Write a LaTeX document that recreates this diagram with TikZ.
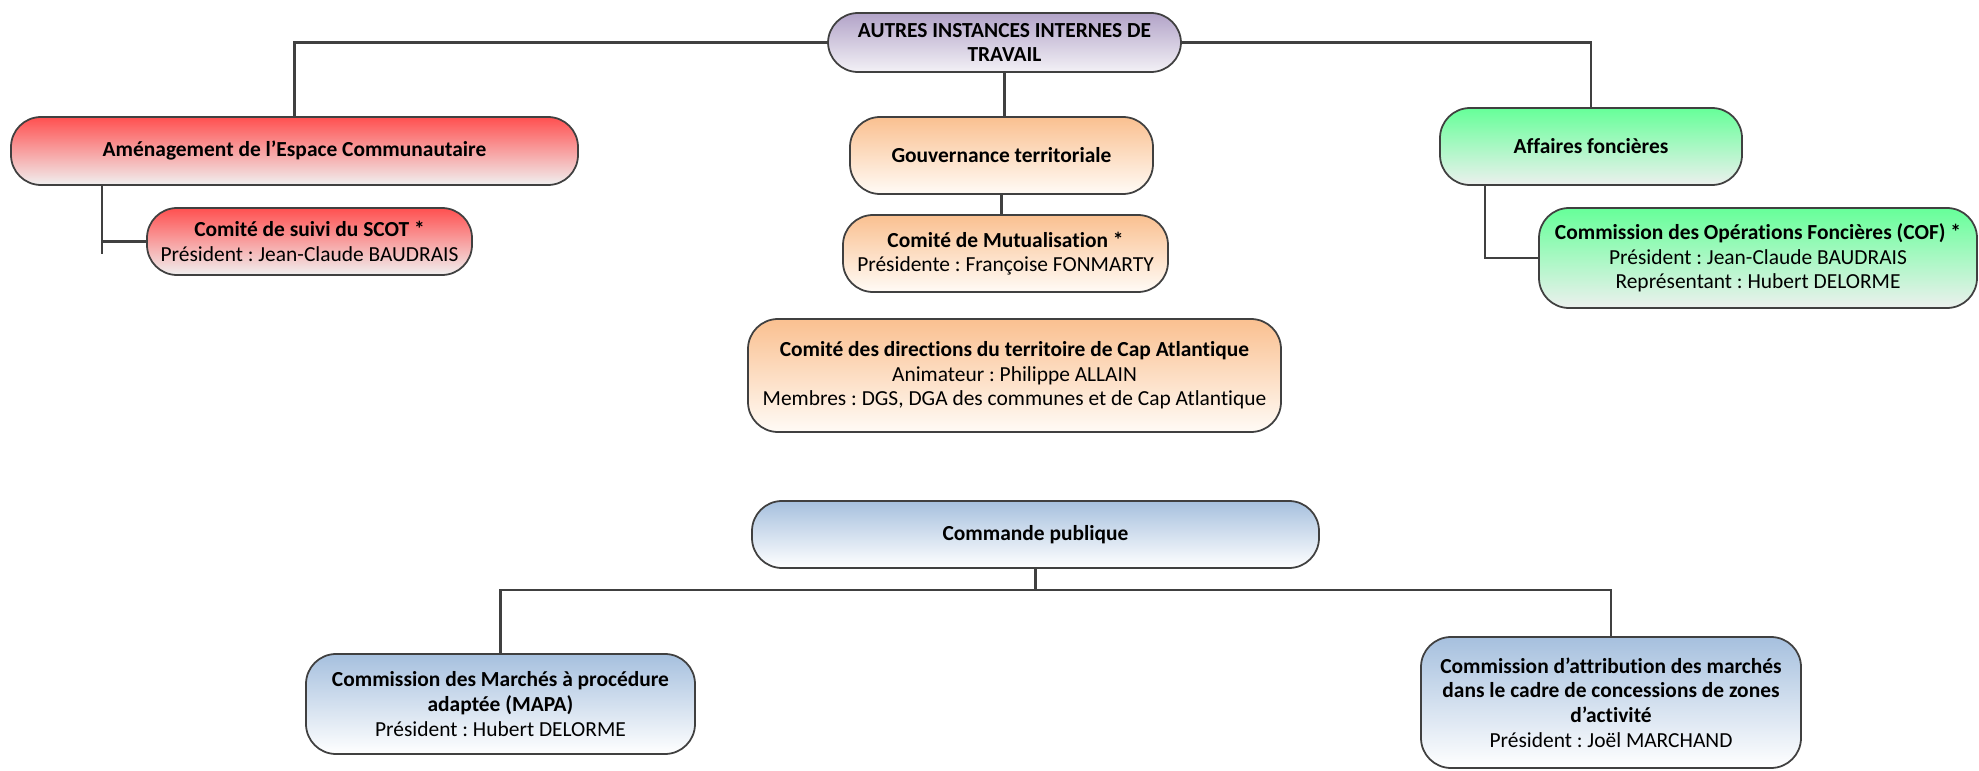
\documentclass[tikz,border=0pt]{standalone}
\usepackage{fontspec}
\setmainfont[Ligatures=NoCommon]{Carlito}
\frenchspacing
\definecolor{linegray}{RGB}{64,64,64}
\definecolor{purpletop}{RGB}{178,163,200}
\definecolor{purplebot}{RGB}{243,241,246}
\definecolor{redtop}{RGB}{255,80,80}
\definecolor{redbot}{RGB}{240,240,240}
\definecolor{orangetop}{RGB}{250,192,144}
\definecolor{orangebot}{RGB}{255,251,246}
\definecolor{greentop}{RGB}{102,255,153}
\definecolor{greenbot}{RGB}{236,240,238}
\definecolor{bluetop}{RGB}{166,192,222}
\definecolor{bluebot}{RGB}{255,255,255}

\begin{document}
\begin{tikzpicture}[
    instbox/.style={draw=linegray, line width=0.5pt, rounded corners=0.3cm,
        align=center, inner sep=1pt,
        font=\fontsize{6.1}{7}\selectfont},
    purplebox/.style={instbox, top color=purpletop, bottom color=purplebot},
    redbox/.style={instbox, top color=redtop, bottom color=redbot},
    orangebox/.style={instbox, top color=orangetop, bottom color=orangebot},
    greenbox/.style={instbox, top color=greentop, bottom color=greenbot},
    bluebox/.style={instbox, top color=bluetop, bottom color=bluebot},
    link/.style={draw=linegray, line width=0.8pt}
]
    \useasboundingbox (0,0) rectangle (19.79,7.70);

    % Connectors at the top
    \coordinate (scotend) at (1.02,5.16);
    \coordinate (cmdbus) at (10.355,1.80);

    % Top node and the three groups
    \node[purplebox, minimum width=3.53cm, minimum height=0.59cm] (autres) at (10.045,7.275)
        {\textbf{AUTRES INSTANCES INTERNES DE}\\\textbf{TRAVAIL}};
    \node[redbox, minimum width=5.67cm, minimum height=0.68cm] (amenag) at (2.945,6.19)
        {\textbf{Aménagement de l’Espace Communautaire}};
    \node[orangebox, minimum width=3.03cm, minimum height=0.77cm] (gouv) at (10.015,6.145)
        {\textbf{Gouvernance territoriale}};
    \node[greenbox, minimum width=3.02cm, minimum height=0.77cm] (affaires) at (15.91,6.235)
        {\textbf{Affaires foncières}};

    \draw[link] (autres.west) -| (amenag.north);
    \draw[link] (autres.east) -| (affaires.north);
    \draw[link] (autres.south) -- (autres.south |- gouv.north);

    % Aménagement
    \node[redbox, minimum width=3.25cm, minimum height=0.67cm] (scot) at (3.095,5.285)
        {\textbf{Comité de suivi du SCOT *}\\Président : Jean-Claude BAUDRAIS};
    \draw[link] (amenag.south -| scotend) -- (scotend);
    \draw[link] (scot.west) -- (scot.west -| scotend);

    % Gouvernance
    \node[orangebox, minimum width=3.25cm, minimum height=0.77cm] (mutual) at (10.055,5.165)
        {\textbf{Comité de Mutualisation *}\\Présidente : Françoise FONMARTY};
    \draw[link] (gouv.south) -- (gouv.south |- mutual.north);
    \node[orangebox, minimum width=5.33cm, minimum height=1.13cm] (codir) at (10.145,3.945)
        {\textbf{Comité des directions du territoire de Cap Atlantique}\\Animateur : Philippe ALLAIN\\Membres : DGS, DGA des communes et de Cap Atlantique};

    % Affaires foncières
    \node[greenbox, minimum width=4.38cm, minimum height=1.00cm] (cof) at (17.58,5.12)
        {\textbf{Commission des Opérations Foncières (COF) *}\\Président : Jean-Claude BAUDRAIS\\Représentant : Hubert DELORME};
    \draw[link] ([xshift=-1.06cm]affaires.south) |- (cof.west);

    % Commande publique
    \node[bluebox, minimum width=5.67cm, minimum height=0.67cm] (commande) at (10.355,2.355)
        {\textbf{Commande publique}};
    \node[bluebox, minimum width=3.89cm, minimum height=1.00cm] (mapa) at (5.005,0.66)
        {\textbf{Commission des Marchés à procédure}\\\textbf{adaptée (MAPA)}\\Président : Hubert DELORME};
    \node[bluebox, minimum width=3.80cm, minimum height=1.31cm] (attrib) at (16.11,0.675)
        {\textbf{Commission d’attribution des marchés}\\\textbf{dans le cadre de concessions de zones}\\\textbf{d’activité}\\Président : Joël MARCHAND};
    \draw[link] (commande.south) -- (cmdbus);
    \draw[link] (mapa.north) |- (cmdbus) -| (attrib.north);
\end{tikzpicture}
\end{document}
